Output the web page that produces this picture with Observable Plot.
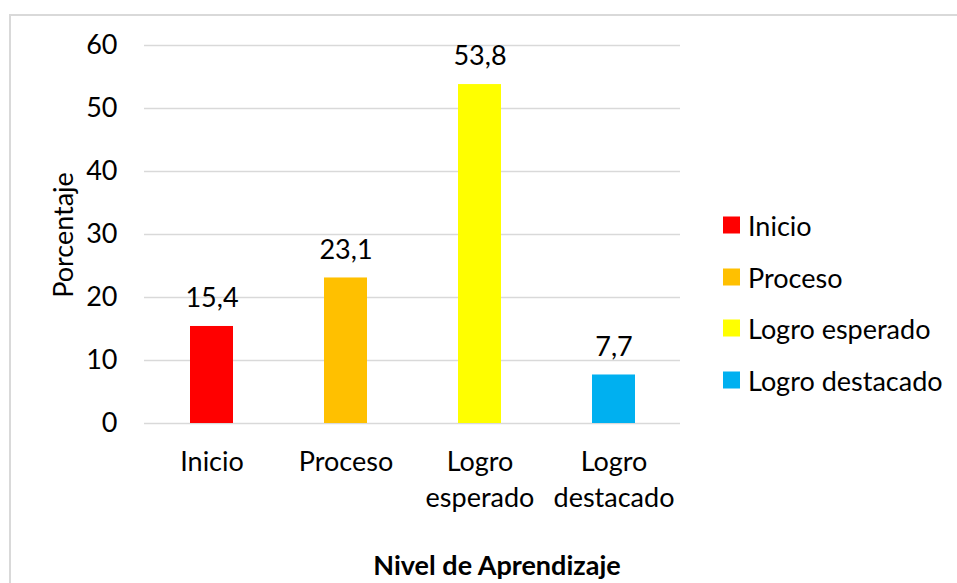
<!DOCTYPE html>
<html>
<head>
<meta charset="utf-8">
<script src="https://cdn.jsdelivr.net/npm/d3@7"></script>
<script src="https://cdn.jsdelivr.net/npm/@observablehq/plot@0.6"></script>
<style>
  html, body { margin: 0; padding: 0; background: #fff; }
  #wrap { position: relative; width: 957px; height: 583px; overflow: hidden; font-family: Lato, "Noto Sans", sans-serif; color: #000; }
  #frame { position: absolute; left: 9px; top: 14px; width: 1000px; height: 700px; border: 2px solid #d9d9d9; box-sizing: border-box; }
  #chart { position: absolute; left: 0; top: 0; }
  .ytitle { position: absolute; left: 62px; top: 235px; transform: translate(-50%, -50%) rotate(-90deg); font-size: 27px; white-space: nowrap; }
  .xtitle { position: absolute; left: 497px; top: 564px; transform: translate(-50%, -50%); font-size: 27px; font-weight: bold; white-space: nowrap; }
  .legend { position: absolute; left: 723px; top: 0; }
  .item { position: absolute; left: 0; display: flex; align-items: center; white-space: nowrap; font-size: 27px; transform: translateY(-50%); }
  .sw { width: 17px; height: 17px; margin-right: 8px; }
</style>
</head>
<body>
<div id="wrap">
  <div id="frame"></div>
  <div id="chart"></div>
</div>
<script>
const categories = ["Inicio", "Proceso", "Logro esperado", "Logro destacado"];
const tickLabels = ["Inicio", "Proceso", "Logro\nesperado", "Logro\ndestacado"];
const values = [15.4, 23.1, 53.8, 7.7];
const colors = ["#ff0000", "#ffc000", "#ffff00", "#00b0f0"];
const yTicks = [0, 10, 20, 30, 40, 50, 60];
const yTitle = "Porcentaje";
const xTitle = "Nivel de Aprendizaje";

const data = categories.map((c, i) => ({cat: c, value: values[i]}));
const fmt = v => v.toFixed(1).replace(".", ",");

const plot = Plot.plot({
  width: 957,
  height: 583,
  marginLeft: 144,
  marginRight: 277,
  marginTop: 45,
  marginBottom: 160,
  style: {fontFamily: "Lato, 'Noto Sans', sans-serif", fontSize: "27px", color: "#000", background: "transparent"},
  x: {domain: categories, paddingInner: 0.68, paddingOuter: 0.34, label: null},
  y: {domain: [0, 60], label: null},
  color: {domain: categories, range: colors},
  marks: [
    Plot.gridY(yTicks, {stroke: "#d9d9d9", strokeOpacity: 1, strokeWidth: 1.5}),
    Plot.axisY(yTicks, {tickSize: 0, tickPadding: 27, label: null, fontSize: 27}),
    Plot.barY(data, {x: "cat", y: "value", fill: "cat"}),
    Plot.axisX({tickSize: 0, tickPadding: 23, label: null, fontSize: 27, lineHeight: 1.3,
      tickFormat: d => tickLabels[categories.indexOf(d)]}),
    Plot.text(data, {x: "cat", y: "value", text: d => fmt(d.value), dy: -28, fontSize: 27, fill: "#000"})
  ]
});
document.getElementById("chart").appendChild(plot);

const wrap = document.getElementById("wrap");
const yt = document.createElement("div"); yt.className = "ytitle"; yt.textContent = yTitle; wrap.appendChild(yt);
const xt = document.createElement("div"); xt.className = "xtitle"; xt.textContent = xTitle; wrap.appendChild(xt);
const legend = document.createElement("div"); legend.className = "legend"; wrap.appendChild(legend);
categories.forEach((c, i) => {
  const it = document.createElement("div");
  it.className = "item";
  it.style.top = (225 + 51.7 * i) + "px";
  const sw = document.createElement("div"); sw.className = "sw"; sw.style.background = colors[i];
  const tx = document.createElement("span"); tx.textContent = c;
  it.appendChild(sw); it.appendChild(tx);
  legend.appendChild(it);
});
</script>
</body>
</html>
